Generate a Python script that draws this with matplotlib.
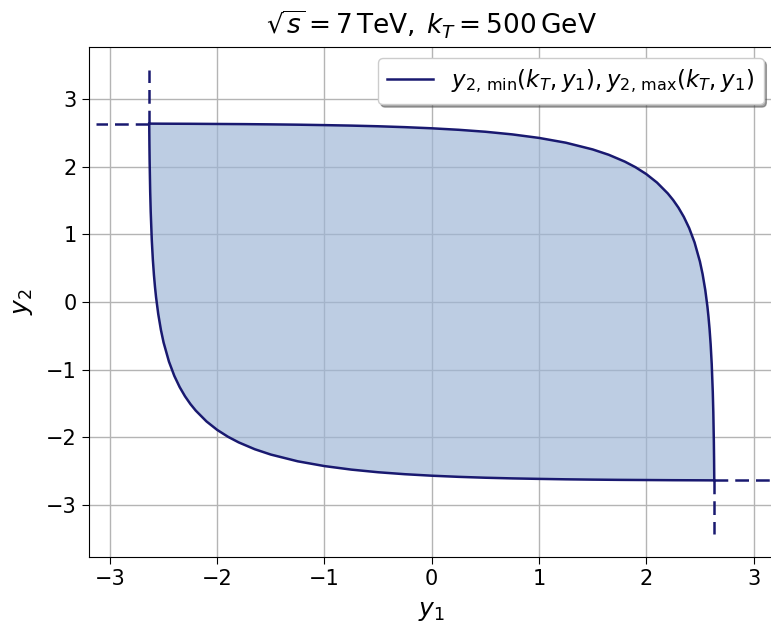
import matplotlib
matplotlib.use("Agg")
import matplotlib.pyplot as plt
import numpy as np

# Kinematic boundary of the second jet's rapidity at fixed kT (sqrt(s) = 7 TeV, kT = 500 GeV)
y1_upper = [-2.6339, -2.5, -2.25, -2.0, -1.75, -1.5, -1.25, -1.0, -0.75, -0.5, -0.25,
            0.0, 0.25, 0.5, 0.75, 1.0, 1.25, 1.5, 1.65, 1.8, 1.9, 2.0, 2.1, 2.2,
            2.25, 2.3, 2.35, 2.4, 2.45, 2.5, 2.525, 2.55, 2.57, 2.58, 2.59, 2.6,
            2.61, 2.62, 2.625, 2.63, 2.632, 2.6339]
y2_max = [2.634, 2.633, 2.6315, 2.629, 2.6266, 2.623, 2.6184, 2.612, 2.6048, 2.595,
          2.5819, 2.565, 2.543, 2.514, 2.4751, 2.423, 2.3523, 2.253, 2.174, 2.073,
          1.9898, 1.889, 1.7636, 1.604, 1.5068, 1.393, 1.2569, 1.091, 0.880, 0.598,
          0.4116, 0.176, -0.0681, -0.220, -0.4001, -0.623, -0.9138, -1.331, -1.6327,
          -2.072, -2.3187, -2.634]

y1_lower = [-2.6339, -2.632, -2.63, -2.625, -2.62, -2.61, -2.6, -2.59, -2.58, -2.57,
            -2.55, -2.525, -2.5, -2.45, -2.4, -2.35, -2.3, -2.25, -2.2, -2.1, -2.0,
            -1.9, -1.8, -1.65, -1.5, -1.25, -1.0, -0.75, -0.5, -0.25, 0.0, 0.25,
            0.5, 0.75, 1.0, 1.25, 1.5, 1.75, 2.0, 2.25, 2.5, 2.6339]
y2_min = [2.634, 2.3187, 2.072, 1.6327, 1.331, 0.9138, 0.623, 0.4001, 0.220, 0.0681,
          -0.176, -0.4116, -0.598, -0.880, -1.091, -1.2569, -1.393, -1.5068, -1.604,
          -1.7636, -1.889, -1.9898, -2.073, -2.174, -2.253, -2.3523, -2.423, -2.4751,
          -2.514, -2.543, -2.565, -2.5819, -2.595, -2.6048, -2.612, -2.6184, -2.623,
          -2.6266, -2.629, -2.6315, -2.633, -2.634]

# Rapidity reach of a single jet and the guide-line extents
y_reach = 2.634
guide_h_left = -3.13
guide_h_right = 3.25
guide_v_top = 3.43
guide_v_bottom = -3.43

line_color = "#191970"

fig = plt.figure(figsize=(7.71, 6.26), dpi=100)
ax = fig.add_axes([88.5 / 771, 1 - 557.3 / 626, (775 - 88.5) / 771, (557.3 - 46.7) / 626])

ax.grid(True, color="#b4b4b4", linewidth=1.0, zorder=0)
ax.set_axisbelow(True)

ax.fill(np.concatenate([y1_upper, y1_lower[::-1]]),
        np.concatenate([y2_max, y2_min[::-1]]),
        color="#9db5d6", alpha=0.67, linewidth=0, zorder=1)

ax.plot(y1_upper, y2_max, color=line_color, lw=1.8, zorder=3,
        label=r"$y_{2,\,\mathrm{min}}(k_T, y_1), y_{2,\,\mathrm{max}}(k_T, y_1)$")
ax.plot(y1_lower, y2_min, color=line_color, lw=1.8, zorder=3)

dash = dict(color=line_color, lw=1.8, ls=(0, (5.5, 2.8)), zorder=3)
ax.plot([-y_reach, guide_h_left], [y_reach, y_reach], **dash)
ax.plot([-y_reach, -y_reach], [y_reach, guide_v_top], **dash)
ax.plot([y_reach, guide_h_right], [-y_reach, -y_reach], **dash)
ax.plot([y_reach, y_reach], [-y_reach, guide_v_bottom], **dash)

ax.set_xlim(-3.2, 3.2)
ax.set_ylim(-3.77, 3.77)
ax.set_xticks([-3, -2, -1, 0, 1, 2, 3])
ax.set_yticks([-3, -2, -1, 0, 1, 2, 3])
ax.tick_params(labelsize=15, length=5)

ax.set_xlabel(r"$y_1$", fontsize=18, labelpad=7)
ax.set_ylabel(r"$y_2$", fontsize=18, labelpad=8)
ax.set_title(r"$\sqrt{s} = 7\,\mathrm{TeV},\:k_T = 500\,\mathrm{GeV}$", fontsize=19, pad=9)

leg = ax.legend(loc="upper right", fontsize=16.5, shadow=True, fancybox=True,
                framealpha=1.0)

fig.savefig("out.png", dpi=100)
